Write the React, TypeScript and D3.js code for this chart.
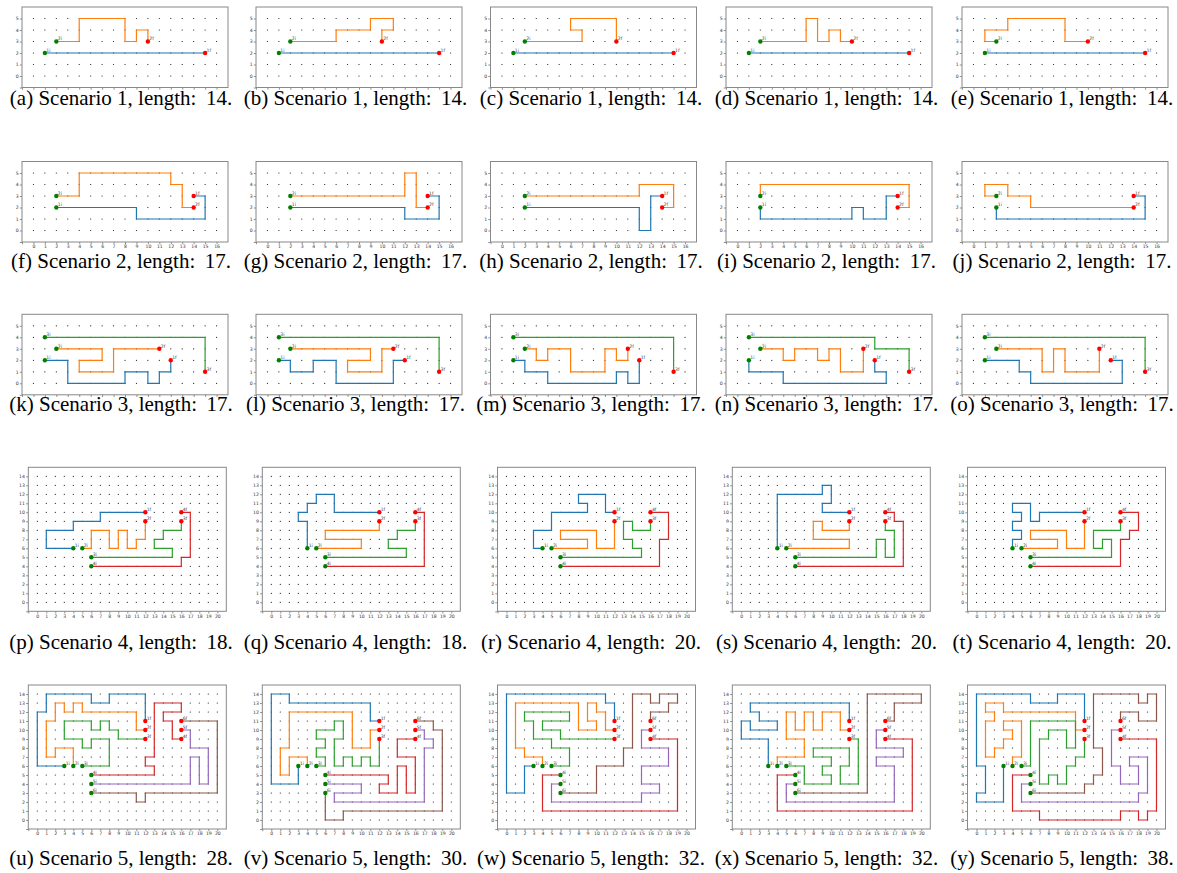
import * as d3 from 'd3';
import { useEffect, useRef } from 'react';

type Pt = [number, number];

const FIG_WIDTH = 1177;
const FIG_HEIGHT = 873;
const AGENT_COLORS = ['#1f77b4', '#ff7f0e', '#2ca02c', '#d62728', '#9467bd', '#8c564b'];
const START_COLOR = '#008000';
const GOAL_COLOR = '#ff0000';

const PANEL_LETTERS = 'abcdefghijklmnopqrstuvwxy'.split('');
const PANEL_SCENARIOS = [1, 1, 1, 1, 1, 2, 2, 2, 2, 2, 3, 3, 3, 3, 3, 4, 4, 4, 4, 4, 5, 5, 5, 5, 5];
const PANEL_LENGTHS = [14, 14, 14, 14, 14, 17, 17, 17, 17, 17, 17, 17, 17, 17, 17, 18, 18, 20, 20, 20, 28, 30, 32, 32, 38];

// agent routes, one list of corner cells per agent (start first, goal last)
const PATHS_A: Pt[][] = [
  [[1, 2], [15, 2]],
  [[2, 3], [4, 3], [4, 5], [8, 5], [8, 3], [9, 3], [9, 4], [10, 4], [10, 3]],
];
const PATHS_B: Pt[][] = [
  [[1, 2], [15, 2]],
  [[2, 3], [6, 3], [6, 4], [9, 4], [9, 5], [11, 5], [11, 4], [10, 4], [10, 3]],
];
const PATHS_C: Pt[][] = [
  [[1, 2], [15, 2]],
  [[2, 3], [7, 3], [7, 4], [6, 4], [6, 5], [10, 5], [10, 3]],
];
const PATHS_D: Pt[][] = [
  [[1, 2], [15, 2]],
  [[2, 3], [6, 3], [6, 5], [7, 5], [7, 3], [8, 3], [8, 4], [9, 4], [9, 3], [10, 3]],
];
const PATHS_E: Pt[][] = [
  [[1, 2], [15, 2]],
  [[2, 3], [1, 3], [1, 4], [3, 4], [3, 5], [8, 5], [8, 3], [10, 3]],
];

const PATHS_F: Pt[][] = [
  [[2, 2], [9, 2], [9, 1], [15, 1], [15, 3], [14, 3]],
  [[2, 3], [4, 3], [4, 5], [12, 5], [12, 4], [13, 4], [13, 2], [14, 2]],
];
const PATHS_G: Pt[][] = [
  [[2, 2], [12, 2], [12, 1], [15, 1], [15, 3], [14, 3]],
  [[2, 3], [12, 3], [12, 5], [13, 5], [13, 2], [14, 2]],
];
const PATHS_H: Pt[][] = [
  [[2, 2], [12, 2], [12, 0], [13, 0], [13, 3], [14, 3]],
  [[2, 3], [12, 3], [12, 4], [15, 4], [15, 2], [14, 2]],
];
const PATHS_I: Pt[][] = [
  [[2, 2], [2, 1], [10, 1], [10, 2], [11, 2], [11, 1], [13, 1], [13, 3], [14, 3]],
  [[2, 3], [2, 4], [15, 4], [15, 2], [14, 2]],
];
const PATHS_J: Pt[][] = [
  [[2, 2], [2, 1], [15, 1], [15, 3], [14, 3]],
  [[2, 3], [1, 3], [1, 4], [3, 4], [3, 3], [5, 3], [5, 2], [14, 2]],
];

const PATHS_K: Pt[][] = [
  [[1, 2], [3, 2], [3, 0], [8, 0], [8, 1], [10, 1], [10, 0], [11, 0], [11, 1], [12, 1], [12, 2]],
  [[2, 3], [6, 3], [6, 2], [4, 2], [4, 1], [7, 1], [7, 3], [11, 3]],
  [[1, 4], [15, 4], [15, 1]],
];
const PATHS_L: Pt[][] = [
  [[1, 2], [2, 2], [2, 1], [4, 1], [4, 2], [6, 2], [6, 0], [11, 0], [11, 2], [12, 2]],
  [[2, 3], [9, 3], [9, 2], [7, 2], [7, 1], [10, 1], [10, 3], [11, 3]],
  [[1, 4], [15, 4], [15, 1]],
];
const PATHS_M: Pt[][] = [
  [[1, 2], [2, 2], [2, 1], [4, 1], [4, 0], [10, 0], [10, 1], [11, 1], [11, 0], [12, 0], [12, 2]],
  [[2, 3], [3, 3], [3, 2], [4, 2], [4, 3], [6, 3], [6, 1], [9, 1], [9, 3], [10, 3], [10, 2], [11, 2], [11, 3]],
  [[1, 4], [15, 4], [15, 1]],
];
const PATHS_N: Pt[][] = [
  [[1, 2], [1, 1], [4, 1], [4, 0], [13, 0], [13, 1], [12, 1], [12, 2]],
  [[2, 3], [4, 3], [4, 2], [5, 2], [5, 3], [7, 3], [7, 2], [8, 2], [8, 3], [9, 3], [9, 1], [11, 1], [11, 3]],
  [[1, 4], [12, 4], [12, 3], [15, 3], [15, 1]],
];
const PATHS_O: Pt[][] = [
  [[1, 2], [4, 2], [4, 1], [5, 1], [5, 0], [13, 0], [13, 2], [12, 2]],
  [[2, 3], [6, 3], [6, 1], [7, 1], [7, 3], [8, 3], [8, 1], [11, 1], [11, 3]],
  [[1, 4], [15, 4], [15, 1]],
];

const PATHS_P: Pt[][] = [
  [[4, 6], [1, 6], [1, 8], [4, 8], [4, 9], [7, 9], [7, 10], [12, 10]],
  [[5, 6], [6, 6], [6, 8], [8, 8], [8, 6], [9, 6], [9, 8], [10, 8], [10, 6], [11, 6], [11, 7], [12, 7], [12, 9]],
  [[6, 5], [15, 5], [15, 6], [13, 6], [13, 7], [14, 7], [14, 8], [16, 8], [16, 9]],
  [[6, 4], [16, 4], [16, 5], [17, 5], [17, 10], [16, 10]],
];
const PATHS_Q: Pt[][] = [
  [[4, 6], [4, 9], [3, 9], [3, 10], [4, 10], [4, 11], [5, 11], [5, 12], [7, 12], [7, 10], [12, 10]],
  [[5, 6], [10, 6], [10, 7], [6, 7], [6, 8], [12, 8], [12, 9]],
  [[6, 5], [15, 5], [15, 6], [13, 6], [13, 7], [14, 7], [14, 8], [16, 8], [16, 9]],
  [[6, 4], [17, 4], [17, 10], [16, 10]],
];
const PATHS_R: Pt[][] = [
  [[4, 6], [3, 6], [3, 8], [5, 8], [5, 10], [9, 10], [9, 11], [8, 11], [8, 12], [11, 12], [11, 10], [12, 10]],
  [[5, 6], [9, 6], [9, 7], [6, 7], [6, 8], [10, 8], [10, 6], [12, 6], [12, 9]],
  [[6, 5], [15, 5], [15, 6], [14, 6], [14, 7], [13, 7], [13, 9], [14, 9], [14, 8], [16, 8], [16, 9]],
  [[6, 4], [17, 4], [17, 7], [18, 7], [18, 10], [16, 10]],
];
const PATHS_S: Pt[][] = [
  [[4, 6], [4, 12], [9, 12], [9, 13], [10, 13], [10, 11], [9, 11], [9, 10], [12, 10]],
  [[5, 6], [12, 6], [12, 7], [8, 7], [8, 9], [9, 9], [9, 8], [12, 8], [12, 9]],
  [[6, 5], [15, 5], [15, 7], [16, 7], [16, 5], [17, 5], [17, 8], [16, 8], [16, 9]],
  [[6, 4], [18, 4], [18, 9], [17, 9], [17, 10], [16, 10]],
];
const PATHS_T: Pt[][] = [
  [[4, 6], [4, 7], [5, 7], [5, 8], [4, 8], [4, 9], [5, 9], [5, 10], [4, 10], [4, 11], [6, 11], [6, 9], [7, 9], [7, 10], [12, 10]],
  [[5, 6], [9, 6], [9, 7], [6, 7], [6, 8], [10, 8], [10, 6], [12, 6], [12, 9]],
  [[6, 5], [15, 5], [15, 7], [14, 7], [14, 6], [13, 6], [13, 8], [16, 8], [16, 9]],
  [[6, 4], [16, 4], [16, 7], [17, 7], [17, 8], [18, 8], [18, 10], [16, 10]],
];

const PATHS_U: Pt[][] = [
  [[3, 6], [0, 6], [0, 12], [1, 12], [1, 14], [6, 14], [6, 13], [8, 13], [8, 14], [12, 14], [12, 11]],
  [[4, 6], [4, 8], [2, 8], [2, 7], [1, 7], [1, 11], [2, 11], [2, 13], [3, 13], [3, 12], [4, 12], [4, 13], [5, 13], [5, 12], [11, 12], [11, 10], [12, 10]],
  [[5, 6], [8, 6], [8, 9], [6, 9], [6, 8], [5, 8], [5, 9], [3, 9], [3, 11], [6, 11], [6, 10], [7, 10], [7, 11], [8, 11], [8, 10], [9, 10], [9, 9], [12, 9]],
  [[6, 5], [13, 5], [13, 6], [12, 6], [12, 7], [13, 7], [13, 13], [16, 13], [16, 12], [14, 12], [14, 11], [15, 11], [15, 9], [16, 9]],
  [[6, 4], [17, 4], [17, 7], [18, 7], [18, 4], [19, 4], [19, 8], [17, 8], [17, 10], [16, 10]],
  [[6, 3], [11, 3], [11, 2], [12, 2], [12, 3], [20, 3], [20, 11], [16, 11]],
];
const PATHS_V: Pt[][] = [
  [[3, 6], [3, 4], [0, 4], [0, 14], [2, 14], [2, 13], [11, 13], [11, 11], [12, 11]],
  [[4, 6], [4, 7], [2, 7], [2, 5], [1, 5], [1, 8], [2, 8], [2, 12], [9, 12], [9, 8], [11, 8], [11, 10], [12, 10]],
  [[5, 6], [6, 6], [6, 7], [5, 7], [5, 8], [6, 8], [6, 9], [5, 9], [5, 10], [7, 10], [7, 11], [8, 11], [8, 9], [7, 9], [7, 6], [8, 6], [8, 7], [9, 7], [9, 6], [10, 6], [10, 7], [11, 7], [11, 6], [12, 6], [12, 9]],
  [[6, 5], [13, 5], [13, 4], [12, 4], [12, 3], [14, 3], [14, 6], [15, 6], [15, 3], [16, 3], [16, 7], [14, 7], [14, 9], [16, 9]],
  [[6, 4], [10, 4], [10, 3], [7, 3], [7, 2], [17, 2], [17, 8], [18, 8], [18, 9], [17, 9], [17, 10], [16, 10]],
  [[6, 3], [6, 0], [8, 0], [8, 1], [19, 1], [19, 10], [18, 10], [18, 11], [16, 11]],
];
const PATHS_W: Pt[][] = [
  [[3, 6], [2, 6], [2, 3], [0, 3], [0, 14], [11, 14], [11, 13], [12, 13], [12, 11]],
  [[4, 6], [4, 7], [2, 7], [2, 8], [1, 8], [1, 13], [8, 13], [8, 10], [10, 10], [10, 11], [9, 11], [9, 13], [10, 13], [10, 12], [11, 12], [11, 10], [12, 10]],
  [[5, 6], [7, 6], [7, 8], [5, 8], [5, 9], [3, 9], [3, 11], [2, 11], [2, 12], [7, 12], [7, 11], [4, 11], [4, 10], [6, 10], [6, 9], [12, 9]],
  [[6, 5], [4, 5], [4, 1], [19, 1], [19, 9], [16, 9]],
  [[6, 4], [5, 4], [5, 2], [15, 2], [15, 3], [17, 3], [17, 4], [15, 4], [15, 6], [18, 6], [18, 8], [15, 8], [15, 10], [16, 10]],
  [[6, 3], [10, 3], [10, 6], [13, 6], [13, 8], [14, 8], [14, 14], [16, 14], [16, 13], [17, 13], [17, 14], [19, 14], [19, 13], [18, 13], [18, 12], [16, 12], [16, 11]],
];
const PATHS_X: Pt[][] = [
  [[3, 6], [3, 9], [0, 9], [0, 11], [1, 11], [1, 10], [4, 10], [4, 11], [2, 11], [2, 12], [1, 12], [1, 13], [12, 13], [12, 11]],
  [[4, 6], [4, 7], [7, 7], [7, 9], [5, 9], [5, 12], [6, 12], [6, 10], [7, 10], [7, 12], [8, 12], [8, 10], [9, 10], [9, 12], [11, 12], [11, 10], [12, 10]],
  [[5, 6], [7, 6], [7, 4], [10, 4], [10, 5], [9, 5], [9, 6], [10, 6], [10, 7], [8, 7], [8, 8], [12, 8], [12, 6], [11, 6], [11, 4], [13, 4], [13, 9], [12, 9]],
  [[6, 5], [4, 5], [4, 1], [19, 1], [19, 9], [16, 9]],
  [[6, 4], [5, 4], [5, 2], [17, 2], [17, 6], [15, 6], [15, 7], [18, 7], [18, 8], [15, 8], [15, 10], [16, 10]],
  [[6, 3], [14, 3], [14, 14], [20, 14], [20, 13], [17, 13], [17, 11], [16, 11]],
];
const PATHS_Y: Pt[][] = [
  [[3, 6], [3, 2], [0, 2], [0, 3], [1, 3], [1, 6], [0, 6], [0, 14], [6, 14], [6, 13], [9, 13], [9, 14], [12, 14], [12, 11]],
  [[4, 6], [4, 7], [5, 7], [5, 11], [3, 11], [3, 10], [4, 10], [4, 9], [3, 9], [3, 8], [2, 8], [2, 7], [1, 7], [1, 11], [2, 11], [2, 12], [1, 12], [1, 13], [3, 13], [3, 12], [11, 12], [11, 10], [12, 10]],
  [[5, 6], [6, 6], [6, 11], [11, 11], [11, 8], [10, 8], [10, 10], [8, 10], [8, 9], [7, 9], [7, 4], [8, 4], [8, 5], [9, 5], [9, 4], [10, 4], [10, 6], [11, 6], [11, 7], [12, 7], [12, 9]],
  [[6, 5], [4, 5], [4, 1], [7, 1], [7, 0], [16, 0], [16, 1], [18, 1], [18, 0], [19, 0], [19, 1], [20, 1], [20, 9], [16, 9]],
  [[6, 4], [5, 4], [5, 2], [18, 2], [18, 3], [19, 3], [19, 7], [17, 7], [17, 6], [18, 6], [18, 4], [16, 4], [16, 6], [15, 6], [15, 10], [16, 10]],
  [[6, 3], [12, 3], [12, 4], [13, 4], [13, 5], [14, 5], [14, 8], [13, 8], [13, 14], [18, 14], [18, 13], [19, 13], [19, 14], [20, 14], [20, 11], [18, 11], [18, 12], [16, 12], [16, 11]],
];

const PANEL_PATHS = [
  PATHS_A, PATHS_B, PATHS_C, PATHS_D, PATHS_E,
  PATHS_F, PATHS_G, PATHS_H, PATHS_I, PATHS_J,
  PATHS_K, PATHS_L, PATHS_M, PATHS_N, PATHS_O,
  PATHS_P, PATHS_Q, PATHS_R, PATHS_S, PATHS_T,
  PATHS_U, PATHS_V, PATHS_W, PATHS_X, PATHS_Y,
];

const SMALL_GRID = { xMax: 16, yMax: 5, width: 206, height: 80.5 };
const LARGE_GRID = { xMax: 20, yMax: 14, width: 198, height: 144 };
const SMALL_LEFTS = [22, 256, 490.5, 726, 962];
const LARGE_LEFTS = [28.3, 262.3, 497.5, 732.3, 967.5];
const CAPTION_CENTERS = [121, 355.5, 591, 826.5, 1062];
// rows 1 and 3 were cropped just under the frame, so their x tick labels do not show
const ROWS = [
  { top: 7, grid: SMALL_GRID, lefts: SMALL_LEFTS, captionY: 105, xLabels: false },
  { top: 161.5, grid: SMALL_GRID, lefts: SMALL_LEFTS, captionY: 268, xLabels: true },
  { top: 314.3, grid: SMALL_GRID, lefts: SMALL_LEFTS, captionY: 411, xLabels: false },
  { top: 467.3, grid: LARGE_GRID, lefts: LARGE_LEFTS, captionY: 649, xLabels: true },
  { top: 685, grid: LARGE_GRID, lefts: LARGE_LEFTS, captionY: 865, xLabels: true },
];

export default function App() {
  const ref = useRef<SVGSVGElement>(null);

  useEffect(() => {
    const svg = d3.select(ref.current);
    svg.selectAll('*').remove();

    svg.append('rect')
      .attr('width', FIG_WIDTH)
      .attr('height', FIG_HEIGHT)
      .attr('fill', '#fff');

    PANEL_PATHS.forEach((paths, index) => {
      const row = ROWS[Math.floor(index / 5)];
      const col = index % 5;
      const { grid } = row;
      const left = row.lefts[col];

      const x = d3.scaleLinear()
        .domain([-1, grid.xMax + 1])
        .range([left, left + grid.width]);
      const y = d3.scaleLinear()
        .domain([-1, grid.yMax + 1])
        .range([row.top + grid.height, row.top]);

      const g = svg.append('g').attr('class', `panel-${PANEL_LETTERS[index]}`);

      const yAxis = g.append('g')
        .attr('transform', `translate(${left},0)`)
        .call(
          d3.axisLeft(y)
            .tickValues(d3.range(-1, grid.yMax + 1))
            .tickFormat((v) => (Number(v) < 0 ? '' : String(v)))
            .tickSize(2.2)
            .tickPadding(1.2)
        );
      const xAxis = g.append('g')
        .attr('transform', `translate(0,${row.top + grid.height})`)
        .call(
          d3.axisBottom(x)
            .tickValues(d3.range(-1, grid.xMax + 1))
            .tickFormat((v) => (Number(v) < 0 ? '' : String(v)))
            .tickSize(2.2)
            .tickPadding(1)
        );
      [yAxis, xAxis].forEach((axis) => {
        axis.select('.domain').remove();
        axis.attr('font-size', 4.6).attr('font-family', 'DejaVu Sans, sans-serif');
        axis.selectAll('line').attr('stroke', '#444').attr('stroke-width', 0.6);
        axis.selectAll('text').attr('fill', '#333');
      });
      if (!row.xLabels) {
        xAxis.selectAll('text').remove();
      }

      g.append('rect')
        .attr('x', left)
        .attr('y', row.top)
        .attr('width', grid.width)
        .attr('height', grid.height)
        .attr('fill', 'none')
        .attr('stroke', '#888')
        .attr('stroke-width', 1);

      g.selectAll('circle.cell')
        .data(d3.cross(d3.range(0, grid.xMax + 1), d3.range(0, grid.yMax + 1)))
        .enter()
        .append('circle')
        .attr('class', 'cell')
        .attr('cx', (d) => x(d[0]))
        .attr('cy', (d) => y(d[1]))
        .attr('r', 0.6)
        .attr('fill', '#111');

      const line = d3.line<Pt>()
        .x((d) => x(d[0]))
        .y((d) => y(d[1]));

      g.selectAll('path.route')
        .data(paths)
        .enter()
        .append('path')
        .attr('class', 'route')
        .attr('d', (d) => line(d))
        .attr('fill', 'none')
        .attr('stroke', (d, i) => AGENT_COLORS[i])
        .attr('stroke-width', 1.2)
        .attr('stroke-linejoin', 'miter');

      paths.forEach((route, agent) => {
        const ends: [Pt, string, string][] = [
          [route[0], START_COLOR, `${agent + 1}i`],
          [route[route.length - 1], GOAL_COLOR, `${agent + 1}f`],
        ];
        ends.forEach(([cell, color, label]) => {
          g.append('circle')
            .attr('cx', x(cell[0]))
            .attr('cy', y(cell[1]))
            .attr('r', 2.2)
            .attr('fill', color);
          g.append('text')
            .attr('x', x(cell[0]) + 1.4)
            .attr('y', y(cell[1]) - 1.2)
            .attr('font-size', 4.6)
            .attr('font-family', 'DejaVu Sans, sans-serif')
            .attr('fill', '#444')
            .text(label);
        });
      });

      svg.append('text')
        .attr('x', CAPTION_CENTERS[col])
        .attr('y', row.captionY)
        .attr('text-anchor', 'middle')
        .attr('font-family', '"Liberation Serif", "Times New Roman", serif')
        .attr('font-size', 21)
        .attr('fill', '#000')
        .text(`(${PANEL_LETTERS[index]}) Scenario ${PANEL_SCENARIOS[index]}, length:\u2009 ${PANEL_LENGTHS[index]}.`);
    });

    return () => {
      svg.selectAll('*').remove();
    };
  }, []);

  return (
    <svg
      ref={ref}
      width={FIG_WIDTH}
      height={FIG_HEIGHT}
      style={{ position: 'absolute', left: 0, top: 0 }}
      role="img"
      aria-label="Multi-agent path solutions on grid scenarios"
    />
  );
}
